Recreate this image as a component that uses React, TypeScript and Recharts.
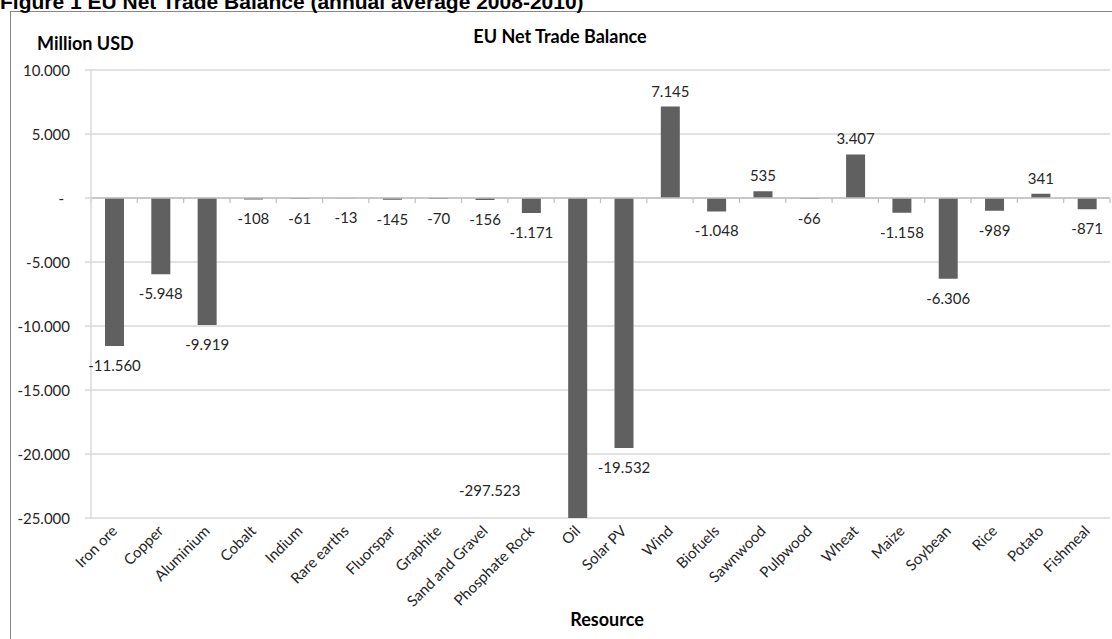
import { BarChart, Bar, XAxis, YAxis, CartesianGrid, ReferenceLine, LabelList } from 'recharts'

// EU net trade balance, annual average 2008-2010, million USD
const resources = [
  'Iron ore',
  'Copper',
  'Aluminium',
  'Cobalt',
  'Indium',
  'Rare earths',
  'Fluorspar',
  'Graphite',
  'Sand and Gravel',
  'Phosphate Rock',
  'Oil',
  'Solar PV',
  'Wind',
  'Biofuels',
  'Sawnwood',
  'Pulpwood',
  'Wheat',
  'Maize',
  'Soybean',
  'Rice',
  'Potato',
  'Fishmeal',
]

const netBalance = [
  -11560, -5948, -9919, -108, -61, -13, -145, -70, -156, -1171, -297523, -19532, 7145, -1048, 535, -66,
  3407, -1158, -6306, -989, 341, -871,
]

const yTicks = [10000, 5000, 0, -5000, -10000, -15000, -20000, -25000]
const yDomain: [number, number] = [-25000, 10000]

const data = resources.map((name, i) => ({ name, value: netBalance[i] }))

const WIDTH = 1112
const HEIGHT = 639
const AXIS_HEIGHT = 121
const PLOT_BOTTOM = HEIGHT - AXIS_HEIGHT
const FONT = 'Lato, "Open Sans", sans-serif'
const TEXT = '#262626'
const GRID = '#d9d9d9'
const AXIS = '#bfbfbf'
const BAR = '#606060'

function formatMillions(v: number): string {
  if (v === 0) return '-'
  const s = Math.abs(v)
    .toString()
    .replace(/\B(?=(\d{3})+(?!\d))/g, '.')
  return (v < 0 ? '-' : '') + s
}

function ResourceTick({ x, y, payload }: any) {
  const tx = x + 4
  const ty = y + 14
  return (
    <text
      x={tx}
      y={ty}
      transform={`rotate(-45 ${tx} ${ty})`}
      textAnchor="end"
      fontSize={15}
      fontFamily={FONT}
      fill={TEXT}
    >
      {payload.value}
    </text>
  )
}

// accounting style: the zero dash sits a little left of the digits
function AmountTick({ x, y, payload }: any) {
  const v = payload.value as number
  return (
    <text
      x={v === 0 ? x - 6 : x}
      y={y}
      textAnchor="end"
      dominantBaseline="central"
      fontSize={15}
      fontFamily={FONT}
      fill={TEXT}
    >
      {formatMillions(v)}
    </text>
  )
}

function ValueLabel(props: any) {
  const { x, y, width, height, value } = props
  const cx = x + width / 2
  const common = {
    textAnchor: 'middle' as const,
    dominantBaseline: 'central' as const,
    fontSize: 15,
    fontFamily: FONT,
    fill: TEXT,
  }
  // bar runs off the bottom of the axis: Excel parks the label beside it
  if (value < yDomain[0]) {
    return (
      <text x={cx - 88} y={PLOT_BOTTOM - 28} {...common}>
        {formatMillions(value)}
      </text>
    )
  }
  const end = value >= 0 ? Math.min(y, y + height) : Math.max(y, y + height)
  const ty = value >= 0 ? end - 16 : end + 19
  return (
    <text x={cx} y={ty} {...common}>
      {formatMillions(value)}
    </text>
  )
}

export default function App() {
  return (
    <div
      style={{
        position: 'absolute',
        left: 0,
        top: 0,
        width: WIDTH,
        height: HEIGHT,
        overflow: 'hidden',
        background: '#fff',
      }}
    >
      {/* chart frame, right and bottom edges run off the page */}
      <div
        style={{
          position: 'absolute',
          left: 10,
          top: 11,
          width: WIDTH + 20,
          height: HEIGHT + 20,
          border: '1px solid #878787',
          boxSizing: 'border-box',
        }}
      />

      <BarChart
        width={WIDTH}
        height={HEIGHT}
        data={data}
        margin={{ top: 70, right: 2, bottom: 0, left: 0 }}
        style={{ position: 'absolute', left: 0, top: 0 }}
      >
        <CartesianGrid vertical={false} stroke={GRID} strokeWidth={1.5} />
        <XAxis
          dataKey="name"
          height={AXIS_HEIGHT}
          interval={0}
          axisLine={false}
          tickLine={false}
          tickSize={0}
          tickMargin={0}
          tick={<ResourceTick />}
        />
        <YAxis
          width={91}
          domain={yDomain}
          ticks={yTicks}
          interval={0}
          allowDataOverflow
          tick={<AmountTick />}
          axisLine={{ stroke: GRID, strokeWidth: 1.5 }}
          tickLine={{ stroke: GRID, strokeWidth: 1.5 }}
          tickSize={6}
          tickMargin={15}
        />
        <ReferenceLine y={0} stroke={AXIS} strokeWidth={1.5} />
        {/* category boundary tick marks hanging off the zero line */}
        {resources.map((name) => (
          <ReferenceLine
            key={name}
            segment={[
              { x: name, y: 0 },
              { x: name, y: -400 },
            ]}
            position="start"
            stroke={AXIS}
            strokeWidth={1.2}
          />
        ))}
        <ReferenceLine
          segment={[
            { x: resources[resources.length - 1], y: 0 },
            { x: resources[resources.length - 1], y: -400 },
          ]}
          position="end"
          stroke={AXIS}
          strokeWidth={1.2}
        />
        <Bar dataKey="value" fill={BAR} barSize={19} isAnimationActive={false}>
          <LabelList dataKey="value" content={ValueLabel} />
        </Bar>
      </BarChart>

      <svg
        width={WIDTH}
        height={HEIGHT}
        style={{ position: 'absolute', left: 0, top: 0, pointerEvents: 'none' }}
      >
        <text
          x={0}
          y={9}
          fontSize={21}
          fontWeight="bold"
          fontFamily='"Liberation Sans", Arial, sans-serif'
          fill="#000"
        >
          Figure 1 EU Net Trade Balance (annual average 2008-2010)
        </text>
        <text x={37} y={50} fontSize={18} fontWeight="bold" fontFamily={FONT} fill="#000">
          Million USD
        </text>
        <text
          x={560}
          y={43}
          textAnchor="middle"
          fontSize={18}
          fontWeight="bold"
          fontFamily={FONT}
          fill="#000"
        >
          EU Net Trade Balance
        </text>
        <text
          x={607}
          y={626}
          textAnchor="middle"
          fontSize={18}
          fontWeight="bold"
          fontFamily={FONT}
          fill="#000"
        >
          Resource
        </text>
      </svg>
    </div>
  )
}
